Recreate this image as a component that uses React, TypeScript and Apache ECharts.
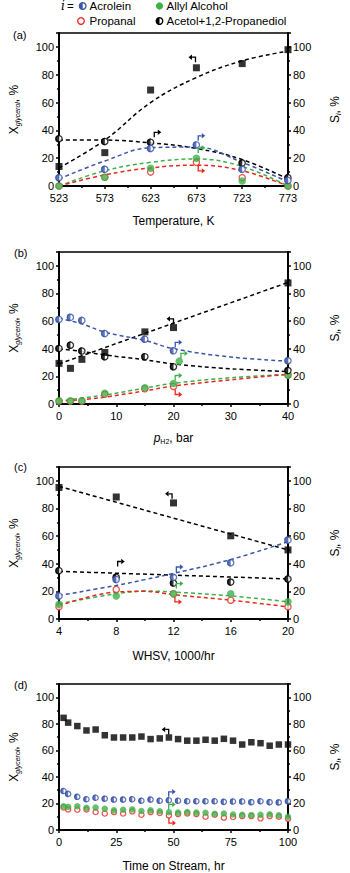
import React, { useEffect, useRef } from "react";
import * as echarts from "echarts";

// ---------- Panel (a): temperature ----------
const tempK = [523, 573, 623, 673, 723, 773];
const aConversion = [14, 24, 69, 85, 88, 98];
const aAcrolein = [6, 12, 27, 29.5, 12, 4];
const aAllyl = [0, 6.3, 12.8, 20, 3.6, 0];
const aPropanal = [0, 6.3, 10, 17, 6, 0];
const aAcetol = [34, 32, 31.5, null, 16.5, 6];
const aConversionFit = [13, 33, 60, 78, 90, 97];
const aAcroleinFit = [5, 18, 27.5, 28, 17, 3];
const aAllylFit = [0, 11, 17, 19.5, 14, 0];
const aPropanalFit = [0, 8, 13, 15, 11, 0];
const aAcetolFit = [33, 33, 31, 27, 19, 5];
const aArrows = [[672, 89, 0, 0], [627, 35, 1, 0], [675, 32.5, 1, 1], [675, 23.7, 1, 2], [675, 14.5, 2, 3]];

// ---------- Panel (b): H2 pressure ----------
const pH2 = [0, 2, 4, 8, 15, 20, 40];
const bConversion = [29.4, 25.8, 32.3, 37.3, 52.2, 55.3, 87.6];
const bAcrolein = [61.2, 62.7, 60.5, 51, 46.9, 38.5, 31.3];
const bAcetol = [40.2, 42.6, 38.3, 34.2, 34.2, 27, 24.2];
const bAllylX = [0, 2, 4, 8, 15, 20, 21, 40];
const bAllyl = [2.4, 2.4, 2.4, 7.7, 11.7, 14.8, 31, 20.8];
const bPropanal = [2, 2, 2, 7, 11, 12.7, 21];
const bFitX = [0, 4, 8, 15, 20, 30, 40];
const bConversionFitX = [0, 40];
const bConversionFit = [29, 88];
const bAcroleinFit = [62, 58, 52, 46, 40, 34, 31];
const bAcetolFit = [40, 38, 35.5, 32, 29, 25.5, 23.5];
const bAllylFit = [2, 4.3, 6.5, 11.5, 15, 19, 21.5];
const bPropanalFit = [2, 3.1, 5, 9.5, 13, 17.5, 21.5];
const bArrows = [[20, 58, 0, 0], [20.3, 41, 1, 1], [21.3, 33, 1, 2], [20.3, 17, 1, 2], [20.3, 10.5, 2, 3]];

// ---------- Panel (c): WHSV ----------
const whsv = [4, 8, 12, 16, 20];
const cConversion = [95.2, 88.3, 84, 60.2, 50];
const cAcrolein = [16.7, 28.6, 30.2, 40.7, 57.1];
const cAcetol = [35, 30.2, 26, 26.7, 29];
const cAllyl = [10.7, 16.7, 18.3, 18.3, 12.4];
const cPropanal = [8.8, 21.4, 18.3, 13.6, 8.8];
const cFitX = [4, 8, 10, 12, 16, 20];
const cLinX = [4, 20];
const cConversionFit = [96, 50];
const cAcetolFit = [34.5, 29];
const cAcroleinFit = [17, 24.3, 28.5, 33, 43, 56];
const cAllylFit = [11, 18.3, 20.2, 19.5, 16.7, 12.4];
const cPropanalFit = [9.5, 19.5, 20, 17.6, 13.6, 8.8];
const cArrows = [[11.9, 87, 0, 0], [8.1, 38, 1, 0], [12.2, 34, 1, 1], [12.2, 22, 1, 2], [12.1, 16, 2, 3]];

// ---------- Panel (d): time on stream ----------
const tos = [2, 4, 8, 12, 16, 20, 24, 28, 32, 36, 40, 44, 48, 52, 56, 60, 64, 68, 72, 76, 80, 84, 88, 92, 96, 100];
const dConversion = [84.5, 80.9, 78.3, 75, 75.7, 71.4, 69.7, 69.7, 69.7, 70.4, 68.5, 69, 69.7, 68.5, 67.3, 67.3, 68, 67.3, 68.7, 67.3, 64.4, 66.1, 65.4, 63.5, 64.4, 64.4];
const dAcrolein = [29.4, 27.2, 25, 23.2, 24.3, 23.6, 22.9, 22.9, 23.2, 22, 22.9, 22, 22.4, 22, 21.7, 21.7, 21.7, 21.7, 21.2, 21.5, 21.5, 21, 21.7, 21, 20.8, 21.7];
const dAllyl = [17.9, 17.4, 17.9, 16.7, 16.9, 16, 14.8, 15.3, 15.5, 14.3, 14.8, 14.1, 13.4, 13.1, 13.6, 13.1, 13, 12.2, 12.4, 11.7, 11.5, 11.2, 11.5, 11.9, 11, 10];
const dPropanal = [17, 15.5, 15.3, 15.5, 13.6, 12.4, 13.5, 12.4, 14, 11.5, 13.5, 12.8, 11, 12, 12.5, 12, 10, 11.5, 9.3, 9.8, 10.5, 10.5, 8.8, 10.5, 10, 8.4];
const dArrows = [[47.9, 72, 0, 0], [47.9, 25, 1, 1], [47.9, 15.5, 1, 2], [48, 9, 2, 3]];

// ---------- styles ----------
const FONT = "'Liberation Sans', Arial, Helvetica, sans-serif";
const BLACK = "#000000";
const BLUE = "#3a55a8";
const GREEN = "#3db049";
const RED = "#e8281e";
const PALETTE = [BLACK, BLUE, GREEN, RED];
const T0 = 523;
const HALF_DISC = "path://M10,0 A10,10 0 0,0 10,20 Z";

const pairs = (xs: number[], ys: (number | null)[], shift = 0) =>
  xs.map((x, i) => [x - shift, ys[i]]).filter((p) => p[1] !== null && p[1] !== undefined);

function fitLine(gi: number, xs: number[], ys: number[], color: string, shift = 0, smooth = true) {
  return {
    type: "line",
    xAxisIndex: gi,
    yAxisIndex: gi * 2 + 1,
    data: pairs(xs, ys, shift),
    smooth: smooth ? 0.4 : false,
    symbol: "none",
    silent: true,
    z: 1,
    lineStyle: { color, width: 1.5, type: [4, 3] },
  };
}

function squares(gi: number, xs: number[], ys: number[], size: number, shift = 0) {
  return {
    type: "scatter",
    xAxisIndex: gi,
    yAxisIndex: gi * 2,
    data: pairs(xs, ys, shift),
    symbol: "rect",
    symbolSize: size,
    z: 6,
    itemStyle: { color: BLACK },
  };
}

function filled(gi: number, xs: number[], ys: number[], color: string, size: number, shift = 0, z = 4) {
  return {
    type: "scatter",
    xAxisIndex: gi,
    yAxisIndex: gi * 2 + 1,
    data: pairs(xs, ys, shift),
    symbol: "circle",
    symbolSize: size,
    z,
    itemStyle: { color },
  };
}

function open(gi: number, xs: number[], ys: (number | null)[], color: string, size: number, shift = 0, z = 3) {
  return {
    type: "scatter",
    xAxisIndex: gi,
    yAxisIndex: gi * 2 + 1,
    data: pairs(xs, ys, shift),
    symbol: "circle",
    symbolSize: size - 1.3,
    z,
    itemStyle: { color: "#ffffff", borderColor: color, borderWidth: 1.3 },
  };
}

function half(gi: number, xs: number[], ys: (number | null)[], color: string, size: number, shift = 0, z = 5) {
  return [
    open(gi, xs, ys, color, size, shift, z),
    {
      type: "scatter",
      xAxisIndex: gi,
      yAxisIndex: gi * 2 + 1,
      data: pairs(xs, ys, shift),
      symbol: HALF_DISC,
      symbolSize: [size / 2, size],
      symbolOffset: [-size / 4, 0],
      z: z + 0.1,
      itemStyle: { color },
    },
  ];
}

function arrows(gi: number, list: number[][], shift = 0) {
  return {
    type: "custom",
    xAxisIndex: gi,
    yAxisIndex: gi * 2 + 1,
    silent: true,
    z: 8,
    data: list.map((a) => [a[0] - shift, a[1], a[2], a[3]]),
    renderItem: (_params: any, api: any) => {
      const p = api.coord([api.value(0), api.value(1)]);
      const dir = api.value(2);
      const col = PALETTE[api.value(3)];
      const sx = dir === 0 ? -1 : 1;
      const sy = dir === 2 ? 1 : -1;
      const h = 5 * sy;
      return {
        type: "group",
        x: p[0],
        y: p[1],
        children: [
          {
            type: "polyline",
            shape: { points: [[0, 0], [0, h], [3.5 * sx, h]] },
            style: { stroke: col, lineWidth: 1.3, fill: null },
          },
          {
            type: "polygon",
            shape: { points: [[7 * sx, h], [3.5 * sx, h - 2.7], [3.5 * sx, h + 2.7]] },
            style: { fill: col },
          },
        ],
      };
    },
  };
}

const grids = [
  { left: 51, top: 33, width: 247, height: 153 },
  { left: 52, top: 252, width: 248, height: 152 },
  { left: 52, top: 467, width: 248, height: 152 },
  { left: 51, top: 684, width: 247, height: 153 },
];

const nameRich = {
  m: { fontSize: 12, fontFamily: FONT, color: BLACK, lineHeight: 14, verticalAlign: "middle" },
  it: { fontSize: 12, fontFamily: FONT, fontStyle: "italic", color: BLACK, lineHeight: 14, verticalAlign: "middle" },
  s: { fontSize: 7, fontFamily: FONT, fontStyle: "italic", color: BLACK, lineHeight: 7, verticalAlign: "bottom" },
  sn: { fontSize: 7, fontFamily: FONT, color: BLACK, lineHeight: 7, verticalAlign: "bottom" },
};

function xAxisCfg(gi: number, min: number, max: number, interval: number, name: string, nameGap: number, fmt?: (v: number) => string) {
  return {
    type: "value",
    gridIndex: gi,
    min,
    max,
    interval,
    name,
    nameLocation: "middle",
    nameGap,
    nameTextStyle: { rich: nameRich, fontFamily: FONT, fontSize: 12, color: BLACK },
    axisLine: { show: true, onZero: false, lineStyle: { color: BLACK, width: 2 } },
    axisTick: { show: true, inside: false, length: 3, lineStyle: { color: BLACK, width: 1.5 } },
    minorTick: { show: true, splitNumber: 2, length: 2, lineStyle: { color: BLACK, width: 1.5 } },
    splitLine: { show: false },
    minorSplitLine: { show: false },
    axisLabel: { color: BLACK, fontSize: 11, fontFamily: FONT, margin: 6, formatter: fmt || ((v: number) => String(v)) },
  };
}

function yAxisCfg(gi: number, position: "left" | "right", name: string, nameGap: number) {
  return {
    type: "value",
    gridIndex: gi,
    position,
    min: 0,
    max: 110,
    interval: 20,
    name,
    nameLocation: "middle",
    nameGap,
    nameRotate: 90,
    nameTextStyle: { rich: nameRich, fontFamily: FONT, fontSize: 12, color: BLACK },
    axisLine: { show: true, onZero: false, lineStyle: { color: BLACK, width: 2 } },
    axisTick: { show: true, inside: false, length: 3, lineStyle: { color: BLACK, width: 1.5 } },
    minorTick: { show: true, splitNumber: 2, length: 2, lineStyle: { color: BLACK, width: 1.5 } },
    splitLine: { show: false },
    minorSplitLine: { show: false },
    axisLabel: {
      color: BLACK,
      fontSize: 11,
      fontFamily: FONT,
      margin: 5,
      formatter: (v: number) => (v > 100 ? "" : String(v)),
    },
  };
}

const yLeftName = "{m|X}{s|glycerol}{m|, %}";
const yRightName = "{m|S}{s|i}{m|, %}";

const xAxes = [
  xAxisCfg(0, 0, 773 - T0, 50, "{m|Temperature, K}", 28, (v: number) => String(v + T0)),
  xAxisCfg(1, 0, 40, 10, "{it|p}{sn|H2}{m|, bar}", 27, undefined),
  xAxisCfg(2, 4, 20, 4, "{m|WHSV, 1000/hr}", 30, undefined),
  xAxisCfg(3, 0, 100, 25, "{m|Time on Stream, hr}", 29, undefined),
];

const yAxes: any[] = [];
for (let gi = 0; gi < 4; gi++) {
  yAxes.push(yAxisCfg(gi, "left", yLeftName, 38));
  yAxes.push(yAxisCfg(gi, "right", yRightName, 40));
}

const series: any[] = [
  // (a)
  fitLine(0, tempK, aConversionFit, BLACK, T0),
  fitLine(0, tempK, aAcetolFit, BLACK, T0),
  fitLine(0, tempK, aAcroleinFit, BLUE, T0),
  fitLine(0, tempK, aAllylFit, GREEN, T0),
  fitLine(0, tempK, aPropanalFit, RED, T0),
  open(0, tempK, aPropanal, RED, 7.5, T0),
  filled(0, tempK, aAllyl, GREEN, 7.5, T0),
  ...half(0, tempK, aAcetol, BLACK, 7.5, T0, 5),
  ...half(0, tempK, aAcrolein, BLUE, 7.5, T0, 5.5),
  squares(0, tempK, aConversion, 7, T0),
  arrows(0, aArrows, T0),
  // (b)
  fitLine(1, bConversionFitX, bConversionFit, BLACK, 0, false),
  fitLine(1, bFitX, bAcetolFit, BLACK),
  fitLine(1, bFitX, bAcroleinFit, BLUE),
  fitLine(1, bFitX, bAllylFit, GREEN),
  fitLine(1, bFitX, bPropanalFit, RED),
  open(1, pH2, bPropanal, RED, 7.5),
  filled(1, bAllylX, bAllyl, GREEN, 7.5),
  ...half(1, pH2, bAcetol, BLACK, 7.5, 0, 5),
  ...half(1, pH2, bAcrolein, BLUE, 7.5, 0, 5.5),
  squares(1, pH2, bConversion, 7),
  arrows(1, bArrows),
  // (c)
  fitLine(2, cLinX, cConversionFit, BLACK, 0, false),
  fitLine(2, cLinX, cAcetolFit, BLACK, 0, false),
  fitLine(2, cFitX, cAcroleinFit, BLUE),
  fitLine(2, cFitX, cAllylFit, GREEN),
  fitLine(2, cFitX, cPropanalFit, RED),
  open(2, whsv, cPropanal, RED, 7.5),
  filled(2, whsv, cAllyl, GREEN, 7.5),
  ...half(2, whsv, cAcetol, BLACK, 7.5, 0, 5),
  ...half(2, whsv, cAcrolein, BLUE, 7.5, 0, 5.5),
  squares(2, whsv, cConversion, 7),
  arrows(2, cArrows),
  // (d)
  open(3, tos, dPropanal, RED, 6.5),
  filled(3, tos, dAllyl, GREEN, 6.5),
  ...half(3, tos, dAcrolein, BLUE, 6.5, 0, 5.5),
  squares(3, tos, dConversion, 6.5),
  arrows(3, dArrows),
];

const txt = (text: string, x: number, y: number, extra: any = {}) => ({
  type: "text",
  x,
  y,
  style: {
    text,
    fill: BLACK,
    fontSize: 11.5,
    fontFamily: FONT,
    textAlign: "left",
    textVerticalAlign: "middle",
    align: "left",
    verticalAlign: "middle",
    ...extra,
  },
});

const legendHalf = (cx: number, cy: number, color: string) => [
  { type: "circle", shape: { cx, cy, r: 3.3 }, style: { fill: "#fff", stroke: color, lineWidth: 1.3 } },
  {
    type: "sector",
    shape: { cx, cy, r: 3.6, r0: 0, startAngle: Math.PI / 2, endAngle: (Math.PI * 3) / 2, clockwise: true },
    style: { fill: color },
  },
];

const graphic: any[] = [
  txt("i", 61, 6, { fontStyle: "italic", fontFamily: "'DejaVu Serif', serif", fontSize: 12 }),
  txt("=", 67, 6),
  ...legendHalf(82.7, 6, BLUE),
  txt("Acrolein", 89.5, 6),
  { type: "circle", shape: { cx: 159.5, cy: 6, r: 3.6 }, style: { fill: GREEN } },
  txt("Allyl Alcohol", 166.5, 6),
  { type: "circle", shape: { cx: 81, cy: 21, r: 3.3 }, style: { fill: "#fff", stroke: RED, lineWidth: 1.3 } },
  txt("Propanal", 89.5, 21),
  ...legendHalf(159.5, 21, BLACK),
  txt("Acetol+1,2-Propanediol", 166.5, 21),
  txt("(a)", 13, 35, { fontSize: 11 }),
  txt("(b)", 14, 253, { fontSize: 11 }),
  txt("(c)", 14, 467, { fontSize: 11 }),
  txt("(d)", 14, 685, { fontSize: 11 }),
];

export default function App() {
  const ref = useRef<HTMLDivElement>(null);
  useEffect(() => {
    document.body.style.margin = "0";
    const chart = echarts.init(ref.current!, null, { renderer: "svg" });
    chart.setOption({
      animation: false,
      backgroundColor: "#ffffff",
      textStyle: { fontFamily: FONT },
      grid: grids.map((g) => ({ ...g, show: true, borderColor: BLACK, borderWidth: 1.5, backgroundColor: "transparent" })),
      xAxis: xAxes,
      yAxis: yAxes,
      series,
      graphic,
    } as any);
    return () => chart.dispose();
  }, []);
  return <div ref={ref} style={{ width: 350, height: 873 }} />;
}
